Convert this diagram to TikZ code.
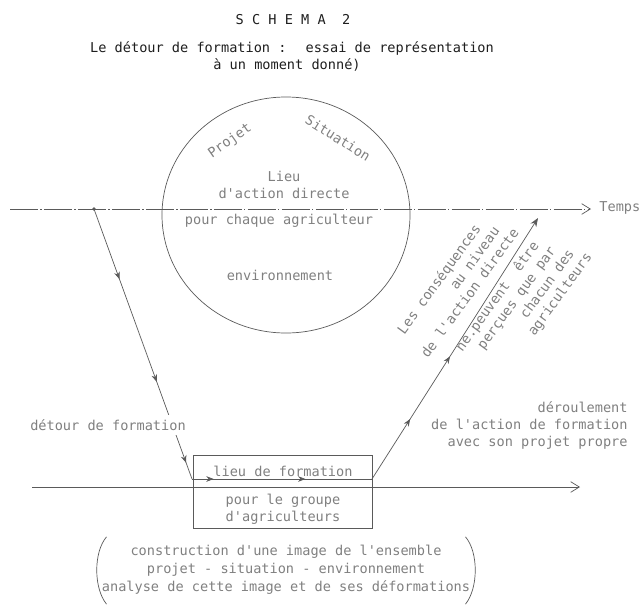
\documentclass[tikz,border=0pt]{standalone}
\usepackage{fontspec}
\usepackage{xcolor}
\usetikzlibrary{arrows.meta,positioning,calc,decorations.markings}
\newfontfamily\typewriter{DejaVu Sans Mono}
\definecolor{ink}{HTML}{1E1E1E}
\definecolor{pencil}{HTML}{5A5A5A}
\definecolor{faded}{HTML}{808080}
\tikzset{
  txt/.style={font=\typewriter\fontsize{11.6}{14.5}\selectfont,text=faded,inner sep=1pt,align=center},
  heading/.style={txt,text=ink},
  slanted/.style={txt,rotate=54,inner sep=0pt,text height=1.6ex,text depth=0.2ex},
  trace/.style={line width=0.6pt,draw=pencil},
  axis/.style={line width=0.6pt,draw=pencil,-{Straight Barb[length=2.6mm,width=3.2mm]}},
  tip at/.style={postaction={decorate,decoration={markings,mark=at position #1 with {\arrow[pencil]{Stealth[length=2.2mm,width=1.7mm]}}}}}
}
\begin{document}
\begin{tikzpicture}[x=0.03cm,y=-0.03cm]
  \useasboundingbox (0,0) rectangle (640,605);
  \node[heading] (titre) at (293,20) {S C H E M A~~2};
  \node[heading] (soustitre) at (292,48) {Le détour de formation :~ essai de représentation};
  \node[heading] (moment) at (287,65) {à un moment donné)};

  \draw[trace] (286,215) ellipse [x radius=124, y radius=118];
  \node[txt,rotate=35] (projet) at (230,141) {Projet};
  \node[txt,rotate=-32] (situation) at (338,138) {Situation};
  \node[txt] (lieu) at (284,185) {Lieu\\d'action directe};
  \node[txt] (chaque) at (279,221) {pour chaque agriculteur};
  \node[txt] (environnement) at (280,275) {environnement};

  \coordinate (t0) at (10,209);
  \coordinate (t1) at (591,209);
  \draw[axis,dash pattern=on 24pt off 2pt on 1pt off 2pt] (t0) -- (t1);
  \node[txt,anchor=west] (temps) at (598,208) {Temps};
  \coordinate (g0) at (32,487);
  \coordinate (g1) at (580,487);
  \draw[axis] (g0) -- (g1);

  \coordinate (depart) at (94,209);
  \coordinate (entree) at (192,479);
  \coordinate (sortie) at (372,479);
  \coordinate (retour) at (538,218);
  \draw[trace,tip at=0.26,tip at=0.64,tip at=0.94] (depart) -- (entree);
  \fill[pencil] (depart) circle (1.6pt);
  \node[txt,fill=white,inner ysep=4pt] (detour) at (108,425) {détour de formation};
  \draw[trace,tip at=0.12,tip at=0.63] (entree) -- (sortie);
  \draw[trace,tip at=0.23,tip at=0.47,-{Stealth[length=2.6mm,width=2mm]}] (sortie) -- (retour);

  \draw[trace,line width=0.5pt] (193,455) rectangle (372,528);
  \node[txt] (formation) at (283,471) {lieu de formation};
  \node[txt] (groupe) at (283,509) {pour le groupe\\d'agriculteurs};

  \node[txt,align=right,anchor=east] (deroulement) at (629,425) {déroulement\\de l'action de formation\\avec son projet propre};

  \node[slanted] (cons1) at (440,280) {Les conséquences};
  \node[slanted] (cons2) at (475.6,259) {au niveau};
  \node[slanted] (cons3) at (470.8,293.7) {de l'action directe};
  \node[slanted] (perc1) at (498,297) {ne.peuvent~ être};
  \node[slanted] (perc2) at (517.2,298.6) {perçues que par};
  \node[slanted] (perc3) at (547.9,284.4) {chacun des};
  \node[slanted] (perc4) at (560.6,295) {agriculteurs};

  \node[txt,font=\typewriter\fontsize{11.6}{15.4}\selectfont] (bilan) at (286,570) {construction d'une image de l'ensemble\\projet - situation - environnement\\analyse de cette image et de ses déformations};
  \draw[trace] ($(bilan.north west)+(6,-7)$) .. controls ($(bilan.west)+(-7,-18)$) and ($(bilan.west)+(-7,18)$) .. ($(bilan.south west)+(6,8)$);
  \draw[trace] ($(bilan.north east)+(-6,-7)$) .. controls ($(bilan.east)+(7,-18)$) and ($(bilan.east)+(7,18)$) .. ($(bilan.south east)+(-6,8)$);
\end{tikzpicture}
\end{document}
